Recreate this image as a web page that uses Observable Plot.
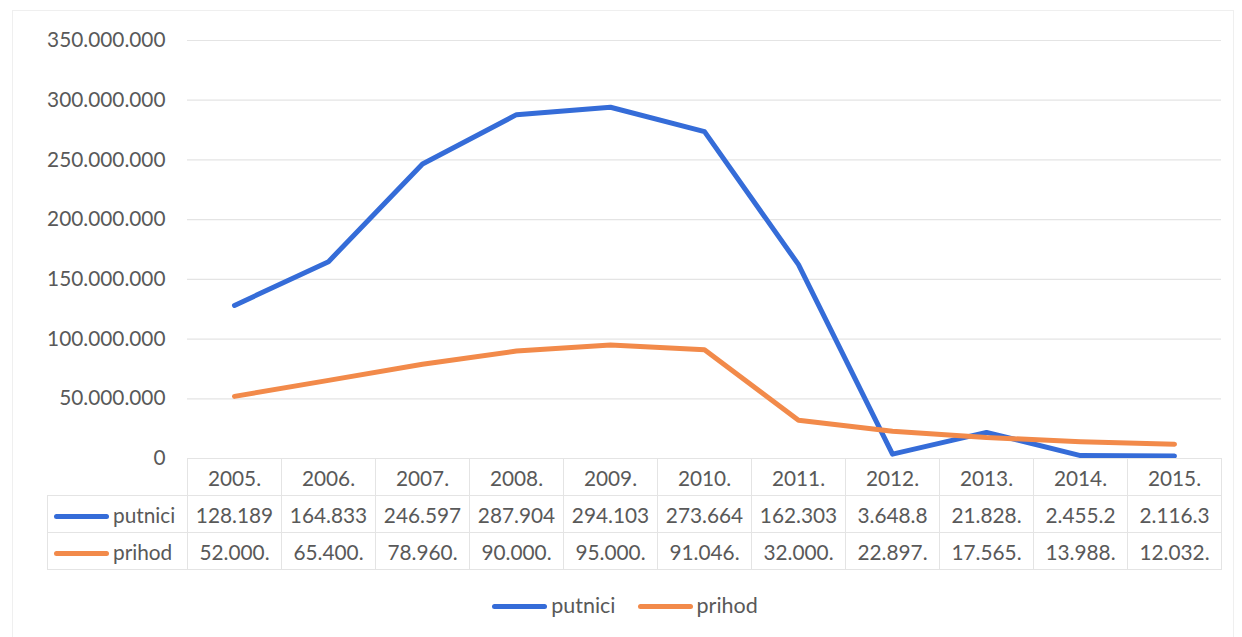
<!DOCTYPE html>
<html><head><meta charset="utf-8">
<script src="https://cdn.jsdelivr.net/npm/d3@7"></script>
<script src="https://cdn.jsdelivr.net/npm/@observablehq/plot@0.6"></script>
<style>
body{margin:0;background:#fff;}
#wrap{position:relative;width:1242px;height:637px;font-family:Lato,sans-serif;color:#595959;overflow:hidden;}
#frame{position:absolute;left:12px;top:10px;width:1222px;height:640px;border:1px solid #efefef;box-sizing:border-box;}
#plot{position:absolute;left:0;top:0;}
table.dt{position:absolute;left:47px;top:458px;border-collapse:collapse;table-layout:fixed;font-size:20.8px;color:#595959;}
table.dt td{border:1px solid #e4e4e4;padding:0;height:37px;text-align:center;white-space:nowrap;overflow:hidden;box-sizing:border-box;}
table.dt td.blank{border:none;border-right:1px solid #e4e4e4;}
table.dt td.lab{text-align:left;padding-left:6px;}
.sw{display:inline-block;width:55px;height:5px;border-radius:3px;vertical-align:middle;margin-right:4px;position:relative;top:-1px;}
#legend{position:absolute;top:592px;left:4px;width:1242px;text-align:center;font-size:21.5px;}
#legend span.item{display:inline-block;margin:0 11px;}
</style></head><body><div id="wrap"><div id="frame"></div><div id="plot"></div></div>
<script>
const years = ["2005.","2006.","2007.","2008.","2009.","2010.","2011.","2012.","2013.","2014.","2015."];
const putnici = [128189000,164833000,246597000,287904000,294103000,273664000,162303000,3648800,21828000,2455200,2116300];
const prihod = [52000000,65400000,78960000,90000000,95000000,91046000,32000000,22897000,17565000,13988000,12032000];
const putniciLabels = ["128.189","164.833","246.597","287.904","294.103","273.664","162.303","3.648.8","21.828.","2.455.2","2.116.3"];
const prihodLabels = ["52.000.","65.400.","78.960.","90.000.","95.000.","91.046.","32.000.","22.897.","17.565.","13.988.","12.032."];
const seriesNames = ["putnici","prihod"];
const seriesColors = ["#356cd8","#f28a4a"];
const yTicks = [0,50000000,100000000,150000000,200000000,250000000,300000000,350000000];

const fmt = d3.formatLocale({decimal:",", thousands:".", grouping:[3], currency:["",""]}).format(",");

const data = [
  ...years.map((y,i)=>({year:y, value:putnici[i], series:"putnici"})),
  ...years.map((y,i)=>({year:y, value:prihod[i], series:"prihod"}))
];

const chart = Plot.plot({
  width:1242, height:637,
  marginLeft:187, marginRight:21, marginTop:40, marginBottom:179,
  style:{fontFamily:"Lato, sans-serif", fontSize:"20.5px", color:"#595959", background:"transparent"},
  x:{type:"point", domain:years, padding:0.5, axis:null},
  y:{domain:[0,350000000], axis:null},
  color:{domain:seriesNames, range:seriesColors},
  marks:[
    Plot.gridY(yTicks, {stroke:"#e4e4e4", strokeOpacity:1, strokeWidth:1.2}),
    Plot.axisY(yTicks, {tickSize:0, tickPadding:22, tickFormat:fmt, fontSize:20.8, fill:"#595959", label:null}),
    Plot.line(data, {x:"year", y:"value", z:"series", stroke:"series", strokeWidth:5, strokeLinejoin:"round", strokeLinecap:"round"})
  ]
});
document.getElementById("plot").appendChild(chart);

const xr = chart.scale("x").range;
const colW = (xr[1]-xr[0]) / years.length;
const wrap = d3.select("#wrap");
const table = wrap.append("table").attr("class","dt");
const cg = table.append("colgroup");
cg.append("col").style("width", (xr[0]-47)+"px");
years.forEach(()=>cg.append("col").style("width", colW+"px"));
const hr = table.append("tr");
hr.append("td").attr("class","blank");
years.forEach(y=>hr.append("td").text(y));
[[seriesNames[0], putniciLabels, seriesColors[0]],[seriesNames[1], prihodLabels, seriesColors[1]]].forEach(([name, labels, col])=>{
  const tr = table.append("tr");
  const td = tr.append("td").attr("class","lab");
  td.append("span").attr("class","sw").style("background", col);
  td.append("span").text(name);
  labels.forEach(l=>tr.append("td").text(l));
});

const legend = wrap.append("div").attr("id","legend");
seriesNames.forEach((n,i)=>{
  const it = legend.append("span").attr("class","item");
  it.append("span").attr("class","sw").style("background", seriesColors[i]);
  it.append("span").text(n);
});
</script>
</body></html>
